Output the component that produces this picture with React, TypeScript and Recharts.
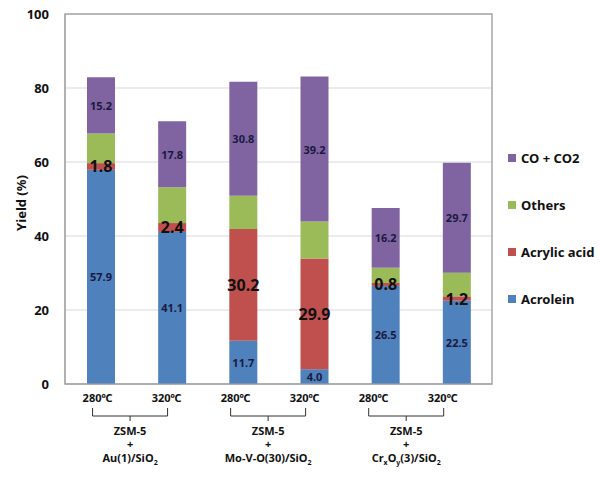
import { BarChart, Bar, XAxis, YAxis, CartesianGrid, LabelList, ReferenceArea } from 'recharts';

const categories = ['280℃', '320℃', '280℃', '320℃', '280℃', '320℃'];
const acrolein = [57.9, 41.1, 11.7, 4.0, 26.5, 22.5];
const acrylicAcid = [1.8, 2.4, 30.2, 29.9, 0.8, 1.2];
const others = [8.0, 9.7, 9.0, 10.0, 4.1, 6.4];
const coCo2 = [15.2, 17.8, 30.8, 39.2, 16.2, 29.7];
const yTicks = [0, 20, 40, 60, 80, 100];

// catalyst names below each pair of bars, subscripts flagged
const groupSupport = ['ZSM-5', 'ZSM-5', 'ZSM-5'];
const groupCatalyst = [
  [{ t: 'Au(1)/SiO' }, { t: '2', sub: true }],
  [{ t: 'Mo-V-O(30)/SiO' }, { t: '2', sub: true }],
  [{ t: 'Cr' }, { t: 'x', sub: true }, { t: 'O' }, { t: 'y', sub: true }, { t: '(3)/SiO' }, { t: '2', sub: true }],
];

const series = [
  { key: 'acrolein', name: 'Acrolein', color: '#4F81BD', label: 'small' },
  { key: 'acrylic', name: 'Acrylic acid', color: '#C0504D', label: 'big' },
  { key: 'others', name: 'Others', color: '#9BBB59', label: 'none' },
  { key: 'co', name: 'CO + CO2', color: '#8064A2', label: 'small' },
];

const data = categories.map((c, i) => ({
  temp: c,
  acrolein: acrolein[i],
  acrylic: acrylicAcid[i],
  others: others[i],
  co: coCo2[i],
}));

const FONT = '"Noto Sans", "Noto Sans CJK KR", sans-serif';

const XTick = ({ x, y, payload, index }: any) => {
  const lx = x - 3 - (x - 100) * 0.03;
  const g = Math.floor(index / 2);
  const isFirst = index % 2 === 0;
  const by = y + 24;
  const cx = lx + 32.5;
  return (
    <g>
      <text x={lx} y={y + 10} textAnchor="middle" fontSize={11} fontWeight="bold" fontFamily={FONT} fill="#111">
        {payload.value}
      </text>
      {isFirst && (
        <g fontFamily={FONT} fontWeight="bold" fontSize={11} fill="#111">
          <path
            d={`M${lx - 5},${by - 8} L${lx - 5},${by} L${lx + 70},${by} L${lx + 70},${by - 8} M${cx},${by} L${cx},${by + 5}`}
            stroke="#333"
            strokeWidth={1}
            fill="none"
          />
          <text x={cx} y={y + 43} textAnchor="middle">{groupSupport[g]}</text>
          <text x={cx} y={y + 56} textAnchor="middle">+</text>
          <text x={cx} y={y + 70} textAnchor="middle">
            {groupCatalyst[g].map((p: any, k: number) => (
              <tspan key={k} fontSize={p.sub ? 7 : 11} dy={p.sub ? 3 : k > 0 && groupCatalyst[g][k - 1].sub ? -3 : 0}>
                {p.t}
              </tspan>
            ))}
          </text>
        </g>
      )}
    </g>
  );
};

const makeLabel = (kind: string) => (props: any) => {
  const { x, y, width, height, value } = props;
  if (kind === 'none') return null;
  const big = kind === 'big';
  return (
    <text
      x={x + width / 2}
      y={y + height / 2}
      textAnchor="middle"
      dominantBaseline="central"
      fontSize={big ? 16 : 11}
      fontWeight="bold"
      fontFamily={FONT}
      fill={big ? '#111' : '#1a1a40'}
    >
      {Number(value).toFixed(1)}
    </text>
  );
};

const YLabel = ({ viewBox }: any) => {
  const cy = viewBox.y + viewBox.height / 2 + 4;
  return (
    <text
      x={21}
      y={cy}
      transform={`rotate(-90, 21, ${cy})`}
      textAnchor="middle"
      dominantBaseline="central"
      fontSize={13}
      fontWeight="bold"
      fontFamily={FONT}
      fill="#111"
    >
      Yield (%)
    </text>
  );
};

export default function App() {
  return (
    <div style={{ position: 'absolute', left: 0, top: 0, width: 600, height: 490, background: '#fff' }}>
      <BarChart width={600} height={490} data={data} margin={{ top: 14, right: 108, bottom: 6, left: 15 }} barSize={28}>
        <CartesianGrid vertical={false} stroke="#d9d9d9" />
        <ReferenceArea y1={0} y2={100} fill="none" stroke="#a6a6a6" strokeWidth={1.5} />
        <XAxis
          dataKey="temp"
          height={100}
          tickLine={false}
          axisLine={{ stroke: '#a6a6a6' }}
          tick={<XTick />}
          interval={0}
        />
        <YAxis
          width={50}
          domain={[0, 100]}
          ticks={yTicks}
          tickLine={false}
          tickSize={0}
          tickMargin={16}
          axisLine={{ stroke: '#a6a6a6' }}
          tick={{ fontSize: 13, fontWeight: 'bold', fontFamily: FONT, fill: '#111' }}
          label={<YLabel />}
        />
        {series.map((s) => (
          <Bar key={s.key} dataKey={s.key} name={s.name} stackId="a" fill={s.color} isAnimationActive={false}>
            <LabelList dataKey={s.key} content={makeLabel(s.label)} />
          </Bar>
        ))}
      </BarChart>
      <div
        style={{
          position: 'absolute',
          left: 508,
          top: 134,
          fontFamily: FONT,
          fontWeight: 'bold',
          fontSize: 13,
          color: '#111',
        }}
      >
        {[...series].reverse().map((s) => (
          <div key={s.key} style={{ display: 'flex', alignItems: 'center', height: 47 }}>
            <div style={{ width: 8, height: 8, background: s.color, marginRight: 5 }} />
            <span>{s.name}</span>
          </div>
        ))}
      </div>
    </div>
  );
}
